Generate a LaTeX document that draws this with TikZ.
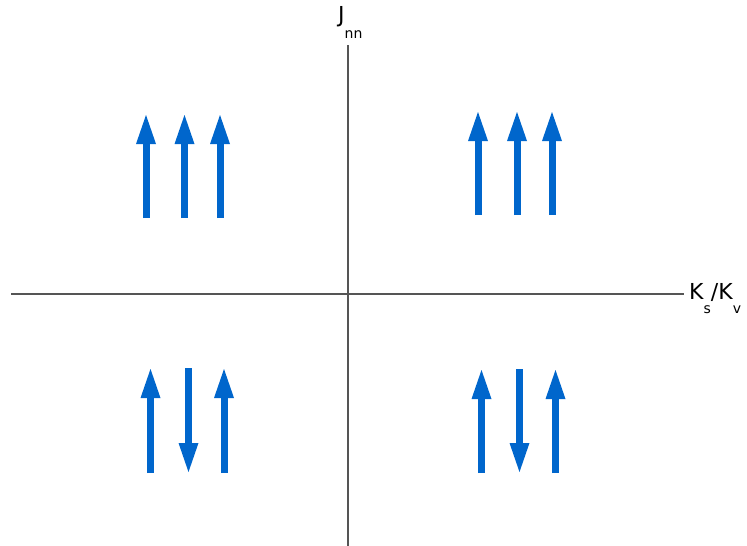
\documentclass[tikz,border=0pt]{standalone}
\usepackage{fontspec}
\setmainfont{DejaVu Sans}
\usetikzlibrary{arrows.meta}
\definecolor{spinblue}{HTML}{0066CC}
\definecolor{axisgray}{HTML}{555555}
\newcommand\lowsub[2]{\raisebox{-#1}{\fontsize{14}{14}\selectfont #2}}

\begin{document}
\begin{tikzpicture}[
    x=1pt, y=-1pt,
    axis/.style={draw=axisgray, line width=1.5pt},
    spin/.style={draw=spinblue, line width=7pt, -{Triangle[length=29pt, width=20pt, line width=0pt]}},
    lbl/.style={font=\fontsize{22}{24}\selectfont, inner sep=0pt}
]
\useasboundingbox (0,0) rectangle (747,546);
% axes
\coordinate (xl) at (11,294);
\coordinate (xr) at (684,294);
\coordinate (yt) at (348,45);
\coordinate (yb) at (348,546);
\draw[axis] (xl) -- (xr);
\draw[axis] (yt) -- (yb);
\node[lbl, anchor=base west] (jnn) at (338,23) {J\lowsub{16pt}{nn}};
\node[lbl, anchor=base west] (kratio) at (689,299) {K\lowsub{14pt}{s}/K\lowsub{14pt}{v}};
% spins, upper half
\foreach \x in {146,184.5,220}
  \draw[spin] (\x,218) -- (\x,115);
\foreach \x in {478,517,552}
  \draw[spin] (\x,215) -- (\x,112);
% spins, lower half
\foreach \x in {150.5,224}
  \draw[spin] (\x,473) -- (\x,369);
\draw[spin] (188.5,368) -- (188.5,472);
\foreach \x in {481.5,555.5}
  \draw[spin] (\x,473) -- (\x,370);
\draw[spin] (519.5,369) -- (519.5,472);
\end{tikzpicture}
\end{document}
